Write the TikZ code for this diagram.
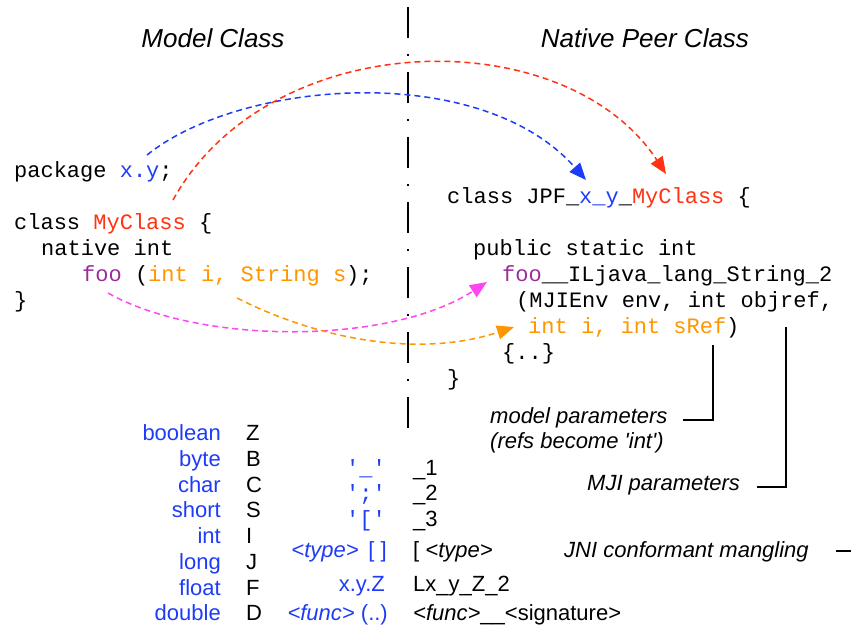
\documentclass[tikz,border=0pt]{standalone}
\usepackage{fontspec}
\setmainfont{Liberation Sans}
\setmonofont{Liberation Mono}
\usetikzlibrary{arrows.meta}

\definecolor{cblue}{RGB}{30,60,245}
\definecolor{cred}{RGB}{255,50,20}
\definecolor{corange}{RGB}{255,150,0}
\definecolor{cpurple}{RGB}{155,45,155}
\definecolor{cmagenta}{RGB}{255,70,240}

\newcommand{\sq}{\textquotesingle}

\tikzset{
  code/.style={anchor=base west, inner sep=0pt, font=\ttfamily\fontsize{22}{26}\selectfont},
  title/.style={anchor=base, inner sep=0pt, font=\itshape\fontsize{26}{30}\selectfont},
  tabl/.style={anchor=base east, inner sep=0pt, text=cblue, font=\fontsize{22}{26}\selectfont},
  tabr/.style={anchor=base west, inner sep=0pt, font=\fontsize{22}{26}\selectfont},
  note/.style={anchor=base west, inner sep=0pt, font=\itshape\fontsize{22}{26}\selectfont},
  flow/.style={line width=1.5pt, dash pattern=on 6pt off 4pt, -{Triangle[length=17pt,width=14pt]}},
  bracket/.style={line width=2pt},
  divider/.style={line width=2pt, dash pattern=on 31pt off 16pt on 1.5pt off 16.5pt}
}

\begin{document}
\begin{tikzpicture}[x=1pt, y=-1pt]
\useasboundingbox (0,0) rectangle (852,629);

% dash-dot divider between the two sides
\coordinate (dtop) at (408,7);
\coordinate (dbot) at (408,428);
\draw[divider] (dtop) -- (dbot);

% column titles
\node[title] (tmodel)  at (213,47) {Model Class};
\node[title] (tnative) at (645,47) {Native Peer Class};

% model class source
\node[code] (pkg)    at (14,177) {package \textcolor{cblue}{x.y};};
\node[code] (cls)    at (14,229) {class \textcolor{cred}{MyClass} \{};
\node[code] (nat)    at (41,255) {native int};
\node[code] (foo)    at (82,281) {\textcolor{cpurple}{foo} (\textcolor{corange}{int i, String s});};
\node[code] (cend)   at (14,307) {\}};

% native peer source
\node[code] (jcls)   at (447,203) {class JPF\_\textcolor{cblue}{x\_y}\_\textcolor{cred}{MyClass} \{};
\node[code] (jpub)   at (473,255) {public static int};
\node[code] (jfoo)   at (502,281) {\textcolor{cpurple}{foo}\_\_ILjava\_lang\_String\_2};
\node[code] (jenv)   at (516,307) {(MJIEnv env, int objref,};
\node[code] (jpar)   at (528,333) {\textcolor{corange}{int i, int sRef})};
\node[code] (jbody)  at (502,359) {\{..\}};
\node[code] (jend)   at (447,385) {\}};

% flow arrows
\coordinate (bs) at (147,155);
\coordinate (be) at (586,180);
\coordinate (rs) at (173,200);
\coordinate (re) at (666,174);
\coordinate (ms) at (108,293);
\coordinate (me) at (487,282);
\coordinate (os) at (237,298);
\coordinate (oe) at (514,327);
\draw[flow, cblue]    (bs) .. controls (240,80)  and (480,60)  .. (be);
\draw[flow, cred]     (rs) .. controls (270,25)  and (565,20)  .. (re);
\draw[flow, cmagenta] (ms) .. controls (200,345) and (390,345) .. (me);
\draw[flow, corange]  (os) .. controls (320,340) and (420,358) .. (oe);

% annotations
\node[note] (mpar)  at (490,423) {model parameters};
\node[note] (mref)  at (490,448) {(refs become \sq int\sq)};
\node[note] (mji)   at (587,490) {MJI parameters};
\node[note] (jni)   at (564,557) {JNI conformant mangling};

\coordinate (mtop) at (713,345);
\coordinate (jtop) at (786,327);
\coordinate (jnistart) at (836,551);
\coordinate (jniend) at (851,551);
\draw[bracket] (mtop) |- ([xshift=15pt]mpar.mid east);
\draw[bracket] (jtop) |- ([xshift=17pt]mji.mid east);
\draw[bracket] (jnistart) -- (jniend);

% type codes
\node[tabl] (tz) at (221,440) {boolean};
\node[tabl] (tb) at (221,466) {byte};
\node[tabl] (tc) at (221,492) {char};
\node[tabl] (ts) at (221,517) {short};
\node[tabl] (ti) at (221,543) {int};
\node[tabl] (tj) at (221,569) {long};
\node[tabl] (tf) at (221,595) {float};
\node[tabl] (td) at (221,620) {double};
\node[tabr] (cz) at (246,440) {Z};
\node[tabr] (cb) at (246,466) {B};
\node[tabr] (cc) at (246,492) {C};
\node[tabr] (cs) at (246,517) {S};
\node[tabr] (ci) at (246,543) {I};
\node[tabr] (cj) at (246,569) {J};
\node[tabr] (cf) at (246,595) {F};
\node[tabr] (cd) at (246,620) {D};

% escapes and mangling rules
\node[tabl, font=\ttfamily\fontsize{22}{26}\selectfont] (eu) at (386,475) {\sq\_\sq};
\node[tabl, font=\ttfamily\fontsize{22}{26}\selectfont] (es) at (386,500) {\sq;\sq};
\node[tabl, font=\ttfamily\fontsize{22}{26}\selectfont] (eb) at (386,526) {\sq[\sq};
\node[tabl] (ea) at (387,557) {\textit{<type>}\, [ ]};
\node[tabl] (ep) at (385,591) {x.y.Z};
\node[tabl] (ef) at (388,620) {\textit{<func>} (..)};
\node[tabr] (ru) at (413,475) {\_1};
\node[tabr] (rs2) at (413,500) {\_2};
\node[tabr] (rb) at (413,526) {\_3};
\node[tabr] (ra) at (413,557) {[ \textit{<type>}};
\node[tabr] (rp) at (413,591) {Lx\_y\_Z\_2};
\node[tabr] (rf) at (413,620) {\textit{<func>}\_\_<signature>};
\end{tikzpicture}
\end{document}
